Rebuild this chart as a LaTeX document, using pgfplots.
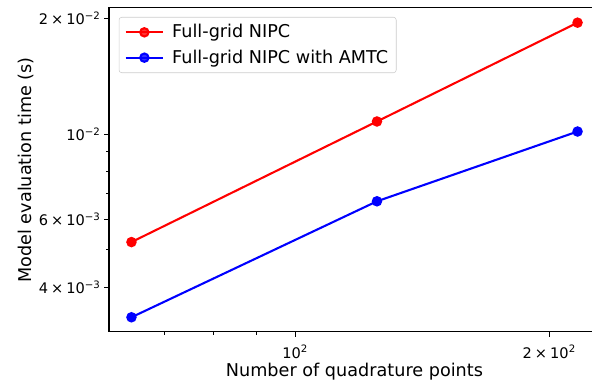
\documentclass[border=0pt]{standalone}
\usepackage{fontspec}
\setmainfont{DejaVu Sans}
\usepackage{pgfplots}
\pgfplotsset{compat=1.18}

\newcommand{\tenpow}[1]{10\textsuperscript{#1}}
\newcommand{\by}{\kern2.2pt×\kern2.2pt}

\begin{document}
\begin{tikzpicture}
% visible page area (the right spine lies just beyond it)
\useasboundingbox (-78.5pt,-41.0pt) rectangle (347.8pt,239.0pt);
\clip (-78.5pt,-41.0pt) rectangle (347.8pt,239.0pt);
\begin{axis}[
  at={(0pt,0pt)}, anchor=south west,
  scale only axis, width=353.5pt, height=233.3pt,
  xmode=log, ymode=log,
  xmin=60.2, xmax=229.6, ymin=0.00306, ymax=0.0213,
  axis line style={line width=0.8pt},
  tick align=outside, xtick pos=bottom, ytick pos=left,
  major tick length=3.5pt, minor tick length=2pt,
  major tick style={line width=0.8pt, black},
  minor tick style={line width=0.6pt, black},
  xtick={100,200},
  xticklabels={\tenpow{2}, 2\by\tenpow{2}},
  minor xtick={70,80,90},
  ytick={0.004,0.006,0.01,0.02},
  yticklabels={4\by\tenpow{−3}, 6\by\tenpow{−3}, \tenpow{−2}, 2\by\tenpow{−2}},
  minor ytick={0.005,0.007,0.008,0.009},
  tick label style={font=\fontsize{10.5}{12.6}\selectfont},
  xticklabel style={yshift=-2.5pt},
  yticklabel style={xshift=1pt},
  label style={font=\fontsize{12.7}{15.2}\selectfont},
  xlabel={Number of quadrature points},
  ylabel={Model evaluation time (s)},
  xlabel style={at={(axis description cs:0.5,-0.1235)}, anchor=center},
  ylabel style={at={(axis description cs:-0.169,0.5)}, anchor=center},
  legend cell align=left,
  legend image code/.code={%
    \draw[mark repeat=2,mark phase=2] plot coordinates {(0pt,0pt)(13.5pt,0pt)(27pt,0pt)};},
  legend style={at={(0,1)}, anchor=north west, xshift=7pt, yshift=-6.5pt,
    draw=black!20, rounded corners=2pt, fill=white, fill opacity=0.8, text opacity=1,
    font=\fontsize{12.7}{15.2}\selectfont, inner xsep=4pt, inner ysep=3.5pt,
    row sep=3.5pt, column sep=4pt, nodes={inner sep=1.8pt}},
]
\addplot[red, line width=1.5pt, mark=*, mark size=3pt, mark options={solid, fill=red}]
  coordinates {(64,0.00524) (125,0.01079) (216,0.01950)};
\addlegendentry{Full-grid NIPC}
\addplot[blue, line width=1.5pt, mark=*, mark size=3pt, mark options={solid, fill=blue}]
  coordinates {(64,0.00334) (125,0.00669) (216,0.01016)};
\addlegendentry{Full-grid NIPC with AMTC}
\end{axis}
\end{tikzpicture}
\end{document}
